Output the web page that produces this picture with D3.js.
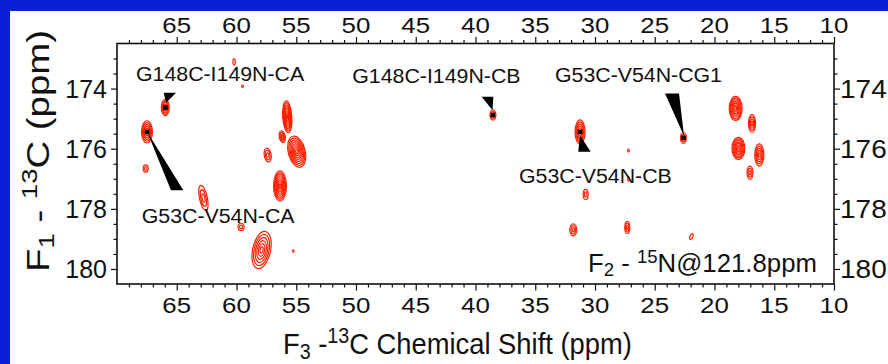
<!DOCTYPE html>
<html>
<head>
<meta charset="utf-8">
<script src="https://cdn.jsdelivr.net/npm/d3@7"></script>
<style>
  html, body { margin: 0; padding: 0; background: #0a20d8; }
  svg { display: block; font-family: "Liberation Sans", Arial, Helvetica, sans-serif; }
</style>
</head>
<body>
<script>
// ---- axis ticks (ppm) ----
const f3MajorTicks = [65, 60, 55, 50, 45, 40, 35, 30, 25, 20, 15, 10];
const f3MinorTicks = d3.range(11, 70).filter(v => v % 5 !== 0);
const f1MajorTicks = [174, 176, 178, 180];
const f1MinorTicks = [173, 173.5, 174.5, 175, 175.5, 176.5, 177, 177.5, 178.5, 179, 179.5];

// ---- cross peaks: F3 shift, F1 shift, outer-contour half widths (ppm), contour levels, tilt (deg) ----
const peakF3     = [65.96, 67.49, 67.60, 62.77, 60.20, 59.50, 55.75, 54.96, 56.17, 57.39, 56.36, 59.62, 57.90, 55.25,
                    38.54, 31.25, 27.20, 27.20, 30.78, 31.82, 27.30, 21.93, 22.60, 18.23, 16.86, 18.00, 16.25, 17.03];
const peakF1     = [174.63, 175.44, 176.66, 177.64, 173.11, 173.92, 174.94, 176.10, 175.60, 176.21, 177.24, 178.60, 179.37, 179.40,
                    174.88, 175.44, 176.06, 177.00, 177.52, 178.70, 178.62, 178.92, 175.64, 174.66, 175.16, 175.99, 176.21, 176.80];
const peakHalfF3 = [0.33, 0.46, 0.21, 0.33, 0.10, 0.08, 0.38, 0.71, 0.25, 0.29, 0.54, 0.25, 0.75, 0.06,
                    0.25, 0.42, 0.07, 0.07, 0.21, 0.29, 0.21, 0.12, 0.25, 0.54, 0.29, 0.54, 0.38, 0.25];
const peakHalfF1 = [0.27, 0.37, 0.12, 0.43, 0.10, 0.04, 0.53, 0.53, 0.20, 0.23, 0.50, 0.12, 0.63, 0.04,
                    0.17, 0.40, 0.05, 0.08, 0.17, 0.20, 0.20, 0.10, 0.18, 0.40, 0.30, 0.37, 0.37, 0.22];
const peakLevels = [5, 6, 2, 3, 1, 1, 8, 8, 4, 3, 8, 2, 6, 1,
                    3, 6, 1, 1, 2, 3, 3, 1, 3, 7, 4, 7, 5, 3];
const peakTilt   = [0, 0, 0, -12, 0, 0, -4, -14, -10, -10, 0, 0, 12, 0,
                    0, 0, 0, 0, 0, 0, 0, 20, 0, 0, 0, 0, 0, 0];

// ---- assignments: label text, label anchor (ppm), assigned peak, pointer wedge (ppm) ----
const labelText  = ["G148C-I149N-CA", "G148C-I149N-CB", "G53C-V54N-CG1", "G53C-V54N-CB", "G53C-V54N-CA"];
const labelF3    = [68.41, 50.31, 33.35, 36.36, 67.93];
const labelF1    = [173.74, 173.82, 173.78, 177.13, 178.46];
const labelPeak  = [0, 14, 22, 15, 1];
const wedgeBaseA = [[66.09, 174.14], [39.48, 174.27], [24.14, 174.16], [31.40, 176.10], [65.48, 177.38]];
const wedgeBaseB = [[65.06, 174.14], [38.51, 174.27], [22.97, 174.16], [30.36, 176.10], [64.45, 177.38]];
const wedgeTip   = [[65.90, 174.48], [38.58, 174.72], [22.55, 175.58], [31.26, 175.55], [67.49, 175.43]];

const W = 888, H = 364;
const svg = d3.select("body").append("svg").attr("width", W).attr("height", H);

// slide background and white panel
svg.append("rect").attr("width", W).attr("height", H).attr("fill", "#0a20d8");
svg.append("rect").attr("x", 10).attr("y", 11).attr("width", W - 10).attr("height", H - 11).attr("fill", "#ffffff");

const plot = { left: 117, right: 834, top: 43.5, bottom: 284 };
const x = d3.scaleLinear().domain([70, 10]).range([plot.left, plot.right]);
const y = d3.scaleLinear().domain([172.5, 180.5]).range([plot.top, plot.bottom]);

const ink = "#111111";

// tick marks on all four sides
function ticks(axis, values, size, transform) {
  const g = svg.append("g").attr("transform", transform)
    .call(axis.tickValues(values).tickSize(size).tickFormat(""));
  g.select(".domain").remove();
  g.selectAll("line").attr("stroke", ink).attr("stroke-width", 1.2);
  g.selectAll("text").remove();
}
ticks(d3.axisBottom(x), f3MinorTicks, 3.5, `translate(0,${plot.bottom})`);
ticks(d3.axisBottom(x), f3MajorTicks, 6.5, `translate(0,${plot.bottom})`);
ticks(d3.axisTop(x), f3MinorTicks, 3.5, `translate(0,${plot.top})`);
ticks(d3.axisTop(x), f3MajorTicks, 6.5, `translate(0,${plot.top})`);
ticks(d3.axisLeft(y), f1MinorTicks, 3.5, `translate(${plot.left},0)`);
ticks(d3.axisLeft(y), f1MajorTicks, 6, `translate(${plot.left},0)`);
ticks(d3.axisRight(y), f1MinorTicks, 3.5, `translate(${plot.right},0)`);
ticks(d3.axisRight(y), f1MajorTicks, 6, `translate(${plot.right},0)`);

// plot frame
svg.append("rect").attr("x", plot.left).attr("y", plot.top)
  .attr("width", plot.right - plot.left).attr("height", plot.bottom - plot.top)
  .attr("fill", "none").attr("stroke", ink).attr("stroke-width", 1.6);

// tick labels
const tickFont = 22.5, tickStretch = 1.15;
[33.3, 313].forEach(base => {
  svg.append("g").selectAll("text").data(f3MajorTicks).join("text")
    .attr("transform", d => `translate(${x(d)},${base}) scale(${tickStretch},1)`)
    .attr("text-anchor", "middle").attr("font-size", tickFont).attr("fill", ink)
    .text(d => d);
});
svg.append("g").selectAll("text").data(f1MajorTicks).join("text")
  .attr("x", plot.left - 10).attr("y", d => y(d) + 9)
  .attr("text-anchor", "end").attr("font-size", 25).attr("fill", ink)
  .text(d => d);
svg.append("g").selectAll("text").data(f1MajorTicks).join("text")
  .attr("transform", d => `translate(${plot.right + 6},${y(d) + 9}) scale(1.12,1)`)
  .attr("text-anchor", "start").attr("font-size", 25).attr("fill", ink)
  .text(d => d);

// contour plot
svg.append("defs").append("clipPath").attr("id", "plotClip")
  .append("rect").attr("x", plot.left).attr("y", plot.top)
  .attr("width", plot.right - plot.left).attr("height", plot.bottom - plot.top);

const contourRings = [];
peakF3.forEach((f3, i) => {
  const n = peakLevels[i];
  for (let k = 0; k < n; k++) {
    contourRings.push({
      cx: x(f3), cy: y(peakF1[i]),
      rx: Math.abs(x(f3 + peakHalfF3[i]) - x(f3)) * (1 - k / n),
      ry: Math.abs(y(peakF1[i] + peakHalfF1[i]) - y(peakF1[i])) * (1 - k / n),
      tilt: peakTilt[i]
    });
  }
});
svg.append("g").attr("clip-path", "url(#plotClip)")
  .attr("fill", "none").attr("stroke", "#ff1e00").attr("stroke-width", 1.2)
  .selectAll("ellipse").data(contourRings).join("ellipse")
  .attr("cx", d => d.cx).attr("cy", d => d.cy)
  .attr("rx", d => Math.max(d.rx, 0.6)).attr("ry", d => Math.max(d.ry, 0.6))
  .attr("transform", d => `rotate(${d.tilt},${d.cx},${d.cy})`);

// assignment pointers and peak markers
const wedge = d3.line().x(d => x(d[0])).y(d => y(d[1]));
svg.append("g").selectAll("path").data(labelText).join("path")
  .attr("d", (d, i) => wedge([wedgeBaseA[i], wedgeBaseB[i], wedgeTip[i]]) + "Z")
  .attr("fill", "#000");
svg.append("g").selectAll("rect").data(labelPeak).join("rect")
  .attr("x", p => x(peakF3[p]) - 2.3).attr("y", p => y(peakF1[p]) - 2.3)
  .attr("width", 4.6).attr("height", 4.6).attr("fill", "#000");

svg.append("g").selectAll("text").data(labelText).join("text")
  .attr("transform", (d, i) => `translate(${x(labelF3[i])},${y(labelF1[i])}) scale(1.04,1)`)
  .attr("font-size", 20.5).attr("fill", ink)
  .text(d => d);

// rich text helper: segments of [text, "sub" | "sup" | ""]
function richText(g, parts, size) {
  const t = g.append("text").attr("font-size", size).attr("fill", ink);
  parts.forEach(([s, kind]) => {
    const ts = t.append("tspan").text(s);
    if (kind === "sub") ts.attr("font-size", size * 0.72).attr("baseline-shift", "-24%");
    if (kind === "sup") ts.attr("font-size", size * 0.72).attr("baseline-shift", "52%");
  });
  return t;
}
function fitWidth(t, width) {
  return width / t.node().getBBox().width;
}

// spectrum plane note
{
  const g = svg.append("g");
  const t = richText(g, [["F", ""], ["2", "sub"], [" - ", ""], ["15", "sup"], ["N@121.8ppm", ""]], 25);
  const s = fitWidth(t, 229);
  g.attr("transform", `translate(588,272) scale(${s},1)`);
}

// F3 axis title
{
  const g = svg.append("g");
  const t = richText(g, [["F", ""], ["3", "sub"], [" -", ""], ["13", "sup"], ["C Chemical Shift (ppm)", ""]], 30);
  const s = fitWidth(t, 349);
  g.attr("transform", `translate(283,354) scale(${s},1)`);
}

// F1 axis title
{
  const g = svg.append("g");
  const t = richText(g, [["F", ""], ["1", "sub"], [" - ", ""], ["13", "sup"], ["C (ppm)", ""]], 31);
  const len = t.node().getBBox().width;
  const s = 242 / len;
  t.attr("x", -len / 2);
  g.attr("transform", `translate(49,151) rotate(-90) scale(${s},1)`);
}
</script>
</body>
</html>
